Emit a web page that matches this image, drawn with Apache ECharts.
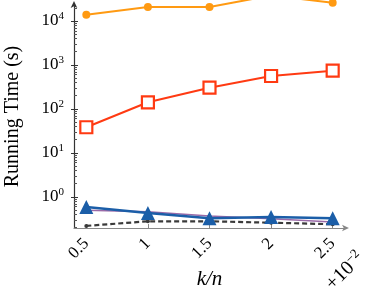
<!DOCTYPE html>
<html><head><meta charset="utf-8">
<script src="https://cdn.jsdelivr.net/npm/echarts@6/dist/echarts.min.js"></script>
<style>html,body{margin:0;padding:0;background:#fff}#c{width:370px;height:291px}</style>
</head><body><div id="c"></div>
<script>
const xValues = [0.5, 1, 1.5, 2, 2.5];
const xTickLabels = ['0.5', '1', '1.5', '2', '2.5'];
const xScaleNote = '+10';
const xScaleExp = '−2';
const orangeSeries = [13900, 20800, 20800, 38000, 26000];
const redSeries = [38.4, 142, 305, 562, 742];
const blueSeries = [0.59, 0.43, 0.33, 0.35, 0.33];
const purpleSeries = [0.5, 0.46, 0.37, 0.32, 0.27];
const graySeries = [0.22, 0.28, 0.28, 0.26, 0.24];
const yTickValues = [1, 10, 100, 1000, 10000];
const yMinorTickValues = [0.2,0.3,0.4,0.5,0.6,0.7,0.8,0.9,2,3,4,5,6,7,8,9,20,30,40,50,60,70,80,90,200,300,400,500,600,700,800,900,2000,3000,4000,5000,6000,7000,8000,9000,20000];

function pairs(arr){ return xValues.map((x,i)=>[x, arr[i]]); }
const serif = 'Liberation Serif';
const chart = echarts.init(document.getElementById('c'), null, {renderer:'canvas'});
chart.setOption({
  animation:false,
  backgroundColor:'#fff',
  grid:{left:74, right:25, top:5, bottom:63, containLabel:false, outerBoundsMode:'none'},
  xAxis:{
    type:'value', min:0.4, max:2.6,
    name:'k/n', nameLocation:'middle', nameGap:40,
    nameTextStyle:{fontFamily:serif, fontStyle:'italic', fontSize:21, color:'#000'},
    axisLine:{show:true, onZero:false, lineStyle:{color:'#888', width:1.2}, symbol:['none','arrow'], symbolSize:[5,7], symbolOffset:[0,4]},
    axisTick:{show:true, inside:true, length:4, lineStyle:{color:'#888'}, customValues:xValues},
    axisLabel:{customValues:xValues, rotate:45, fontFamily:serif, fontSize:17, color:'#000', margin:13,
      formatter:v=>{const i=xValues.indexOf(v); return i>=0?xTickLabels[i]:'';}},
    splitLine:{show:false}
  },
  yAxis:[{
    type:'log', min:0.197, max:23100, logBase:10,
    name:'Running Time (s)', nameLocation:'middle', nameGap:51,
    nameTextStyle:{fontFamily:serif, fontSize:20, color:'#000'},
    axisLine:{show:true, lineStyle:{color:'#333', width:1.2}, symbol:['none','arrow'], symbolSize:[5,7], symbolOffset:[0,4]},
    axisTick:{show:true, inside:false, length:3, lineStyle:{color:'#333'}, customValues:yTickValues},
    axisLabel:{customValues:yTickValues, fontFamily:serif, fontSize:17, color:'#000', margin:10,
      formatter:v=>'10{sup|'+Math.round(Math.log10(v))+'}',
      rich:{sup:{fontFamily:serif, fontSize:11, color:'#000', padding:[0,0,9,0]}}},
    splitLine:{show:false}
  },{
    type:'log', min:0.197, max:23100, logBase:10, position:'left',
    axisLine:{show:false},
    axisTick:{show:true, inside:true, length:3, lineStyle:{color:'#555'}, customValues:yMinorTickValues},
    axisLabel:{show:false},
    splitLine:{show:false}
  },{
    type:'log', min:0.197, max:23100, logBase:10, position:'left',
    axisLine:{show:false},
    axisTick:{show:true, inside:true, length:4, lineStyle:{color:'#333'}, customValues:yTickValues},
    axisLabel:{show:false},
    splitLine:{show:false}
  }],
  series:[
    {type:'line', data:pairs(orangeSeries), symbol:'circle', symbolSize:8, clip:false,
      lineStyle:{width:2, color:'#ff9a12'}, itemStyle:{color:'#ff9a12'}},
    {type:'line', data:pairs(redSeries), symbol:'rect', symbolSize:12, clip:false,
      lineStyle:{width:2, color:'#ff3a12'}, itemStyle:{color:'#fff', borderColor:'#ff3a12', borderWidth:2.2}},
    {type:'line', data:pairs(purpleSeries), symbol:'none', clip:false,
      lineStyle:{width:1.6, color:'#9a6aa8'}},
    {type:'line', data:pairs(graySeries), symbol:'circle', symbolSize:4, clip:false,
      lineStyle:{width:2.2, type:[5,3], color:'#3a3a3a'}, itemStyle:{color:'#3a3a3a'}},
    {type:'line', data:pairs(blueSeries), symbol:'triangle', symbolSize:14, clip:false,
      lineStyle:{width:2.5, color:'#1b5ea8'}, itemStyle:{color:'#1b5ea8'}}
  ],
  graphic:[{
    type:'text', x:321, y:279, rotation:Math.PI/4, originX:0, originY:0,
    style:{text:xScaleNote+'{sup|'+xScaleExp+'}', fill:'#000', font:'20px "Liberation Serif"',
      rich:{sup:{font:'13px "Liberation Serif"', fill:'#000', padding:[0,0,10,0]}}}
  }]
});
</script></body></html>
